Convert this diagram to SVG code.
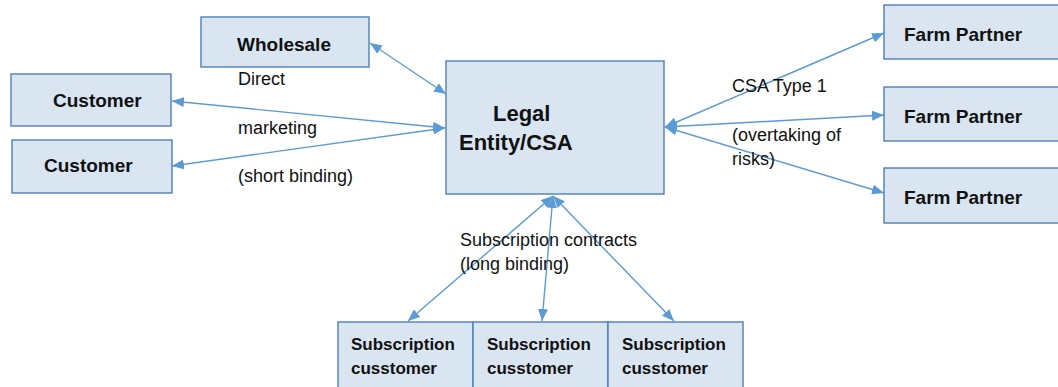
<svg xmlns="http://www.w3.org/2000/svg" width="1058" height="387" viewBox="0 0 1058 387">
  <style>
    .box { fill: #dae5f2; stroke: #4f7fb8; stroke-width: 1.4; }
    .lbl { font-family: "Liberation Sans", Arial, sans-serif; font-weight: bold; font-size: 19px; fill: #111; }
    .big { font-family: "Liberation Sans", Arial, sans-serif; font-weight: bold; font-size: 22px; fill: #111; }
    .sub { font-family: "Liberation Sans", Arial, sans-serif; font-weight: bold; font-size: 17px; fill: #111; }
    .note { font-family: "Liberation Sans", Arial, sans-serif; font-size: 18px; fill: #111; }
    .conn { stroke: #5b9bd5; stroke-width: 1.4; fill: none; marker-start: url(#head); marker-end: url(#head); }
  </style>
  <defs>
    <marker id="head" viewBox="0 0 12 10" refX="12" refY="5" markerWidth="12" markerHeight="10" markerUnits="userSpaceOnUse" orient="auto-start-reverse">
      <path d="M0,0 L12,5 L0,10 z" fill="#5b9bd5"/>
    </marker>
  </defs>

  <rect width="1058" height="387" fill="#ffffff"/>

  <!-- heading, mostly above the page edge -->
  <text class="big" x="231" y="-5">(CSA Type 2)</text>

  <g id="connectors">
    <line class="conn" x1="370" y1="43" x2="446" y2="94"/>
    <line class="conn" x1="172" y1="101" x2="445" y2="128"/>
    <line class="conn" x1="172" y1="166" x2="445" y2="128"/>
    <line class="conn" x1="665" y1="127" x2="884" y2="33"/>
    <line class="conn" x1="665" y1="127" x2="884" y2="115"/>
    <line class="conn" x1="665" y1="127" x2="884" y2="193"/>
    <line class="conn" x1="553" y1="196" x2="408" y2="321"/>
    <line class="conn" x1="553" y1="196" x2="542" y2="321"/>
    <line class="conn" x1="553" y1="196" x2="674" y2="321"/>
  </g>

  <g id="wholesale">
    <rect class="box" x="201" y="17" width="168" height="50"/>
    <text class="lbl" x="237" y="51">Wholesale</text>
  </g>

  <g id="customer-1">
    <rect class="box" x="11" y="74" width="160" height="52"/>
    <text class="lbl" x="53" y="107">Customer</text>
  </g>

  <g id="customer-2">
    <rect class="box" x="12" y="140" width="160" height="53"/>
    <text class="lbl" x="44" y="172">Customer</text>
  </g>

  <g id="legal-entity">
    <rect class="box" x="446" y="61" width="218" height="133"/>
    <text class="big" x="493" y="121">Legal</text>
    <text class="big" x="459" y="150">Entity/CSA</text>
  </g>

  <g id="farm-partner-1">
    <rect class="box" x="884" y="5" width="180" height="54"/>
    <text class="lbl" x="904" y="41">Farm Partner</text>
  </g>

  <g id="farm-partner-2">
    <rect class="box" x="884" y="87" width="180" height="54"/>
    <text class="lbl" x="904" y="123">Farm Partner</text>
  </g>

  <g id="farm-partner-3">
    <rect class="box" x="884" y="168" width="180" height="55"/>
    <text class="lbl" x="904" y="204">Farm Partner</text>
  </g>

  <g id="subscription-customer-1">
    <rect class="box" x="338" y="322" width="135" height="70"/>
    <text class="sub" x="351" y="350">Subscription</text>
    <text class="sub" x="351" y="374">cusstomer</text>
  </g>

  <g id="subscription-customer-2">
    <rect class="box" x="473" y="322" width="135" height="70"/>
    <text class="sub" x="487" y="350">Subscription</text>
    <text class="sub" x="487" y="374">cusstomer</text>
  </g>

  <g id="subscription-customer-3">
    <rect class="box" x="608" y="322" width="135" height="70"/>
    <text class="sub" x="622" y="350">Subscription</text>
    <text class="sub" x="622" y="374">cusstomer</text>
  </g>

  <!-- connector labels -->
  <text class="note" x="238" y="85">Direct</text>
  <text class="note" x="238" y="134">marketing</text>
  <text class="note" x="238" y="182">(short binding)</text>

  <text class="note" x="732" y="92">CSA Type 1</text>
  <text class="note" x="732" y="141">(overtaking of</text>
  <text class="note" x="732" y="165">risks)</text>

  <text class="note" x="460" y="246">Subscription contracts</text>
  <text class="note" x="460" y="270">(long binding)</text>
</svg>
